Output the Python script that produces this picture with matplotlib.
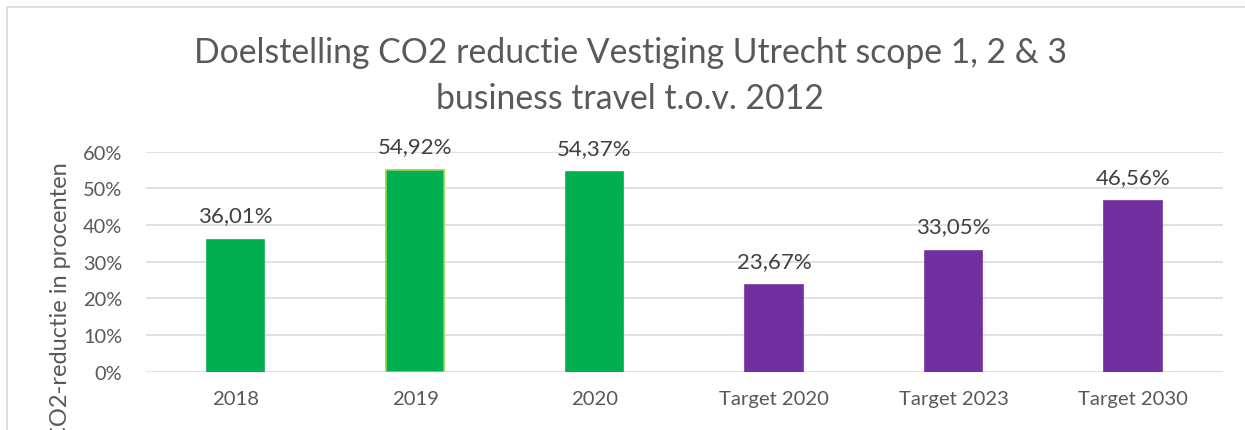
import matplotlib.pyplot as plt
from matplotlib.lines import Line2D
from matplotlib.ticker import FuncFormatter

categories = ["2018", "2019", "2020", "Target 2020", "Target 2023", "Target 2030"]
values = [36.01, 54.92, 54.37, 23.67, 33.05, 46.56]
colors = ["#00B050", "#00B050", "#00B050", "#7030A0", "#7030A0", "#7030A0"]
edges = ["#00B050", "#92D050", "#00B050", "#7030A0", "#7030A0", "#7030A0"]
yticks = [0, 10, 20, 30, 40, 50, 60]

plt.rcParams['font.family'] = ['Lato', 'DejaVu Sans']
grey = "#595959"

W, H = 1245, 431
fig = plt.figure(figsize=(W / 100, H / 100), dpi=100)
ax = fig.add_axes([145.75 / W, (H - 372.7) / H, (1222.75 - 145.75) / W, 220 / H])

x = range(len(categories))
bars = ax.bar(x, values, width=0.318, color=colors, edgecolor=edges, linewidth=1.2, zorder=3)

for xi, v in zip(x, values):
    ax.annotate(f"{v:.2f}%".replace(".", ","), (xi, v), xytext=(0, 17.5), textcoords="offset points",
                ha="center", va="center", fontsize=16, color="#404040")

ax.set_xlim(-0.5, 5.5)
ax.set_ylim(0, 60)
ax.set_yticks(yticks)
ax.yaxis.set_major_formatter(FuncFormatter(lambda v, p: f"{v:.0f}%"))
ax.set_xticks(list(x))
ax.set_xticklabels(categories)
ax.tick_params(axis="y", length=0, pad=17, labelsize=14.4, labelcolor=grey)
ax.tick_params(axis="x", length=0, pad=13, labelsize=14.6, labelcolor=grey)
ax.grid(axis="y", color="#D9D9D9", linewidth=1.1, zorder=0)
for s in ax.spines.values():
    s.set_visible(False)

fig.text(630 / W, 1 - 76 / H, "Doelstelling CO2 reductie Vestiging Utrecht scope 1, 2 & 3\nbusiness travel t.o.v. 2012",
         ha="center", va="center", fontsize=24.3, color=grey, linespacing=1.54)

# axis title, cut off at the bottom edge as in the original
fig.text(61 / W, 1 - 162 / H, "CO2-reductie in procenten", rotation=90, ha="center", va="top",
         fontsize=17, color=grey)

# chart border (left and top visible)
fig.add_artist(Line2D([7 / W, 7 / W, 1], [0, 1 - 8 / H, 1 - 8 / H], transform=fig.transFigure,
                      color="#D9D9D9", linewidth=1.2))

fig.savefig("out.png", dpi=100)
